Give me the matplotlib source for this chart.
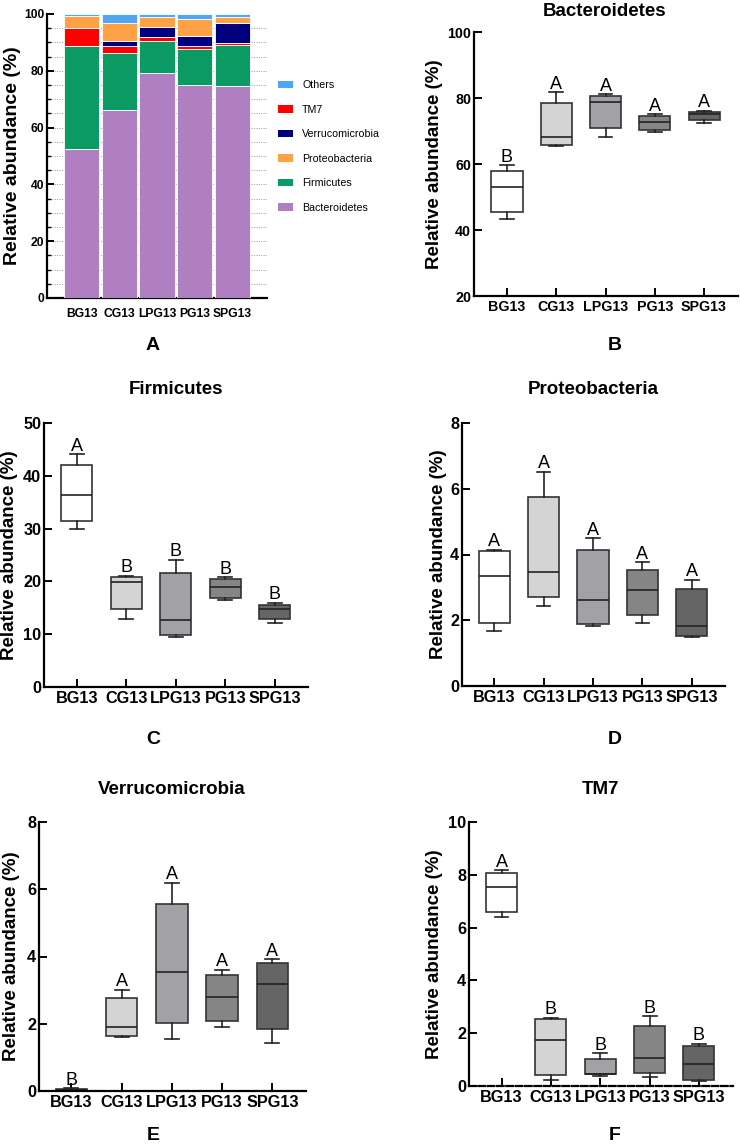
import numpy as np
import matplotlib
matplotlib.use('Agg')
import matplotlib.pyplot as plt
from matplotlib.patches import Patch

plt.rcParams['font.family'] = ['Liberation Sans', 'DejaVu Sans']

# ─── Data ────────────────────────────────────────────────
groups = ['BG13', 'CG13', 'LPG13', 'PG13', 'SPG13']

# panel A: stacked relative abundance (%)
bacteroidetes = [52.3, 66.2, 79.3, 75.0, 74.7]
firmicutes = [36.6, 20.1, 11.3, 12.6, 14.4]
tm7 = [6.3, 2.6, 1.3, 1.1, 0.7]
verrucomicrobia = [0.0, 1.5, 3.6, 3.7, 6.9]
proteobacteria = [4.1, 6.5, 3.3, 5.8, 2.1]
others = [0.7, 3.1, 1.2, 1.8, 1.2]

# box panels: [whisker low, q1, median, q3, whisker high] per group
bact_stats = [[43.2, 45.6, 53.1, 58.0, 59.6],
              [65.6, 65.9, 68.2, 78.4, 81.7],
              [68.3, 71.0, 78.9, 80.7, 81.2],
              [69.7, 70.3, 72.8, 74.6, 75.0],
              [72.5, 73.2, 75.1, 75.7, 76.2]]
bact_letters = ['B', 'A', 'A', 'A', 'A']

firm_stats = [[29.9, 31.5, 36.3, 42.1, 44.1],
              [12.8, 14.7, 19.9, 20.8, 21.1],
              [9.4, 9.9, 12.7, 21.5, 24.1],
              [16.4, 16.9, 19.0, 20.4, 20.8],
              [12.2, 12.9, 14.7, 15.6, 16.0]]
firm_letters = ['A', 'B', 'B', 'B', 'B']

prot_stats = [[1.67, 1.93, 3.35, 4.11, 4.15],
              [2.43, 2.70, 3.48, 5.74, 6.52],
              [1.82, 1.90, 2.63, 4.13, 4.50],
              [1.93, 2.17, 2.91, 3.54, 3.77],
              [1.49, 1.53, 1.84, 2.95, 3.23]]
prot_letters = ['A', 'A', 'A', 'A', 'A']

verr_stats = [[0.0, 0.02, 0.04, 0.06, 0.08],
              [1.61, 1.65, 1.90, 2.76, 3.01],
              [1.54, 2.01, 3.55, 5.56, 6.20],
              [1.89, 2.07, 2.81, 3.44, 3.60],
              [1.43, 1.83, 3.18, 3.80, 3.92]]
verr_letters = ['B', 'A', 'A', 'A', 'A']

tm7_stats = [[6.39, 6.58, 7.54, 8.08, 8.17],
             [0.21, 0.43, 1.76, 2.55, 2.58],
             [0.38, 0.44, 0.47, 1.01, 1.24],
             [0.34, 0.49, 1.06, 2.27, 2.64],
             [0.18, 0.23, 0.82, 1.53, 1.60]]
tm7_letters = ['A', 'B', 'B', 'B', 'B']

box_colors = ['#FFFFFF', '#D4D4D4', '#A2A2A6', '#858585', '#656565']
stack_colors = {'Bacteroidetes': '#AF7FC1', 'Firmicutes': '#0B9A63',
                'TM7': '#FF0000', 'Verrucomicrobia': '#00007F',
                'Proteobacteria': '#FFA245', 'Others': '#52A5F2'}

W, H = 740, 1144
fig = plt.figure(figsize=(W / 100, H / 100), dpi=100)


def add_axes(left, right, top, bottom):
    return fig.add_axes([left / W, 1 - bottom / H, (right - left) / W, (bottom - top) / H])


def fig_text(x, y, s, **kw):
    fig.text(x / W, 1 - y / H, s, ha='center', va='center', **kw)


def style_axes(ax, xlab_size, ylab_x):
    for side in ['top', 'right']:
        ax.spines[side].set_visible(False)
    for side in ['left', 'bottom']:
        ax.spines[side].set_linewidth(1.6)
    ax.set_ylabel('Relative abundance (%)', fontsize=13.5, fontweight='bold', va='center')
    ax.yaxis.set_label_coords(ylab_x, 0.5)
    for lab in ax.get_xticklabels() + ax.get_yticklabels():
        lab.set_fontweight('bold')
        lab.set_fontsize(xlab_size)


# ─── Panel A: stacked bars ───────────────────────────────
axA = add_axes(47, 267, 14, 298)
x = np.arange(len(groups))
bottom = np.zeros(len(groups))
layers = [('Bacteroidetes', bacteroidetes), ('Firmicutes', firmicutes), ('TM7', tm7),
          ('Verrucomicrobia', verrucomicrobia), ('Proteobacteria', proteobacteria),
          ('Others', others)]
for name, vals in layers:
    axA.bar(x, vals, bottom=bottom, width=0.93, color=stack_colors[name],
            edgecolor='white', linewidth=0.6, zorder=3)
    bottom += np.array(vals)
for yv in np.arange(5, 100, 5):
    axA.axhline(yv, color='#9a9a9a', linestyle=(0, (1, 1.5)), linewidth=0.7, zorder=1)
axA.set_xlim(-0.92, 4.92)
axA.set_ylim(0, 100)
axA.set_yticks(np.arange(0, 101, 20))
axA.set_yticks(np.arange(0, 101, 5), minor=True)
axA.set_xticks(x)
axA.set_xticklabels(groups)
axA.tick_params(axis='x', length=0, pad=7)
axA.tick_params(axis='y', which='major', direction='in', length=5, width=1.4, pad=2)
axA.tick_params(axis='y', which='minor', direction='in', length=3, width=1.0)
style_axes(axA, 8.7, -0.159)
axA.set_ylabel('Relative abundance (%)', fontsize=14, fontweight='bold', va='center')

legend_order = ['Others', 'TM7', 'Verrucomicrobia', 'Proteobacteria', 'Firmicutes', 'Bacteroidetes']
handles = [Patch(facecolor=stack_colors[n], edgecolor='none', label=n) for n in legend_order]
fig.legend(handles=handles, loc='upper left', bbox_to_anchor=(278 / W, 1 - 80 / H),
           frameon=False, fontsize=7.7, borderpad=0, borderaxespad=0,
           handlelength=1.4, handleheight=0.7, handletextpad=0.85, labelspacing=1.36)


# ─── Box panels ──────────────────────────────────────────
def box_panel(ax, stats, letters, ylim, yticks, xlim, ylab_x, tick_size=11.7):
    bstats = [dict(whislo=s[0], q1=s[1], med=s[2], q3=s[3], whishi=s[4], fliers=[])
              for s in stats]
    res = ax.bxp(bstats, positions=range(len(groups)), widths=0.63, capwidths=0.28,
                 patch_artist=True, showfliers=False,
                 boxprops=dict(linewidth=1.2, edgecolor='#333333'),
                 medianprops=dict(color='#222222', linewidth=1.2),
                 whiskerprops=dict(color='#222222', linewidth=1.2),
                 capprops=dict(color='#222222', linewidth=1.2))
    for patch, c in zip(res['boxes'], box_colors):
        patch.set_facecolor(c)
    for i, (s, L) in enumerate(zip(stats, letters)):
        ax.annotate(L, (i, s[4]), xytext=(0, 2.5), textcoords='offset points',
                    ha='center', va='baseline', fontsize=13)
    ax.set_xlim(*xlim)
    ax.set_ylim(*ylim)
    ax.set_yticks(yticks)
    ax.set_xticks(range(len(groups)))
    ax.set_xticklabels(groups)
    ax.tick_params(axis='x', direction='in', length=6, width=1.4, pad=3)
    ax.tick_params(axis='y', direction='in', length=6, width=1.4, pad=2)
    style_axes(ax, tick_size, ylab_x)


axB = add_axes(474, 738, 32, 296)
box_panel(axB, bact_stats, bact_letters, (20, 100), [20, 40, 60, 80, 100], (-0.67, 4.69), -0.148,
          tick_size=10.3)

axC = add_axes(44, 308, 423, 687)
box_panel(axC, firm_stats, firm_letters, (0, 50), [0, 10, 20, 30, 40, 50], (-0.66, 4.67), -0.129)

axD = add_axes(462, 725, 423, 686)
box_panel(axD, prot_stats, prot_letters, (0, 8), [0, 2, 4, 6, 8], (-0.65, 4.67), -0.091)

axE = add_axes(39, 306, 822, 1091)
box_panel(axE, verr_stats, verr_letters, (0, 8), [0, 2, 4, 6, 8], (-0.645, 4.67), -0.102)

axF = add_axes(469, 733, 822, 1086)
box_panel(axF, tm7_stats, tm7_letters, (0, 10), [0, 2, 4, 6, 8, 10], (-0.66, 4.69), -0.130)
axF.spines['bottom'].set_linestyle((0, (3, 1.2)))

# ─── Titles and panel letters ────────────────────────────
tkw = dict(fontsize=13.5, fontweight='bold')
fig_text(605, 11, 'Bacteroidetes', **tkw)
fig_text(176, 390, 'Firmicutes', **tkw)
fig_text(593, 390, 'Proteobacteria', **tkw)
fig_text(172, 789, 'Verrucomicrobia', **tkw)
fig_text(600, 790, 'TM7', **tkw)

lkw = dict(fontsize=14, fontweight='bold')
fig_text(153, 345, 'A', **lkw)
fig_text(615, 345, 'B', **lkw)
fig_text(153, 739, 'C', **lkw)
fig_text(615, 739, 'D', **lkw)
fig_text(153, 1135, 'E', **lkw)
fig_text(615, 1135, 'F', **lkw)

fig.savefig('out.png', dpi=100)
